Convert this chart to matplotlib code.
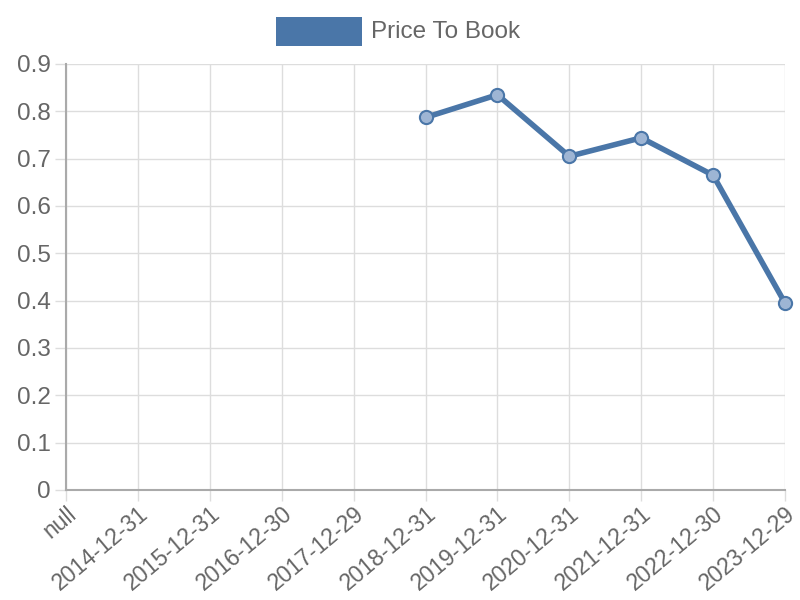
import numpy as np
import matplotlib
matplotlib.use('Agg')
import matplotlib.pyplot as plt
from matplotlib.patches import Rectangle

plt.rcParams['font.family'] = ['Liberation Sans', 'DejaVu Sans']

# data
labels = ['null', '2014-12-31', '2015-12-31', '2016-12-30', '2017-12-29', '2018-12-31',
          '2019-12-31', '2020-12-31', '2021-12-31', '2022-12-30', '2023-12-29']
price_to_book = [np.nan, np.nan, np.nan, np.nan, np.nan, 0.787,
                 0.835, 0.705, 0.744, 0.665, 0.395]
series_name = 'Price To Book'

line_color = '#4a76a8'
text_color = '#666666'
grid_color = '#dddddd'
axis_color = '#aaaaaa'

fig = plt.figure(figsize=(8, 6), dpi=100)
ax = fig.add_axes([66 / 800, 110 / 600, (785 - 66) / 800, (490 - 64) / 600])

x = np.arange(len(labels))
ax.plot(x, price_to_book, color=line_color, linewidth=4, zorder=3, clip_on=False)
ax.scatter(x, price_to_book, s=90, facecolor=(0.62, 0.71, 0.83), edgecolor=line_color,
           linewidth=1.5, zorder=4, clip_on=False)

ax.set_xlim(0, len(labels) - 1)
ax.set_ylim(0, 0.9)
ax.set_yticks(np.arange(0, 0.91, 0.1))
ax.set_yticklabels(['0'] + ['%.1f' % v for v in np.arange(0.1, 0.91, 0.1)])
ax.set_xticks(x)
ax.set_xticklabels(labels, rotation=40, ha='right', rotation_mode='anchor')

ax.grid(True, color=grid_color, linewidth=1)
ax.set_axisbelow(True)
for side in ['top', 'right']:
    ax.spines[side].set_visible(False)
for side in ['left', 'bottom']:
    ax.spines[side].set_color(axis_color)
    ax.spines[side].set_linewidth(1.5)
ax.tick_params(axis='both', colors=grid_color, length=8, width=1,
               labelcolor=text_color, labelsize=17.5, pad=3)
ax.tick_params(axis='x', labelsize=16.5, pad=1)

# legend drawn by hand, centred above the plot
fig.patches.append(Rectangle((276 / 800, 1 - 46 / 600), 86 / 800, 29 / 600,
                             transform=fig.transFigure, facecolor=line_color,
                             edgecolor='none'))
fig.text(371 / 800, 1 - 32 / 600, series_name, color=text_color, fontsize=17.5,
         va='center', ha='left')

fig.savefig('out.png', dpi=100)
